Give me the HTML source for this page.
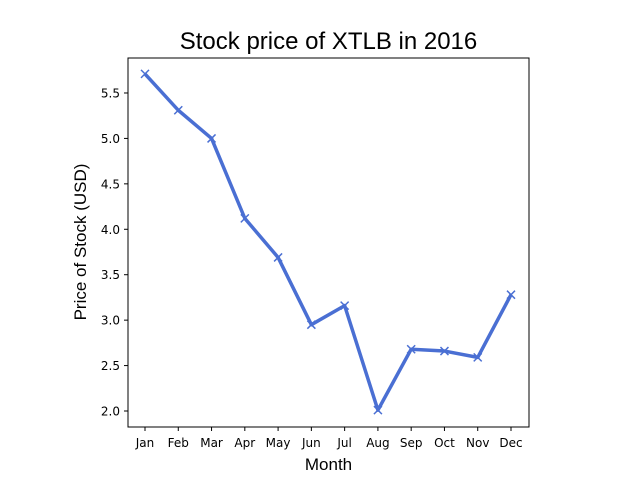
<!DOCTYPE html>
<html><head><meta charset="utf-8"><style>
body{margin:0;background:#fff;}
svg{display:block;font-family:"Liberation Sans","DejaVu Sans",sans-serif;}
.tk{font-family:"DejaVu Sans","Liberation Sans",sans-serif;font-size:12px;}
</style></head><body>
<svg id="chart" width="640" height="480" xmlns="http://www.w3.org/2000/svg">
<rect width="640" height="480" fill="#fff"/>
<text x="328.5" y="49" text-anchor="middle" font-size="24">Stock price of XTLB in 2016</text>
<text x="328.5" y="470" text-anchor="middle" font-size="17">Month</text>
<text transform="translate(86,242) rotate(-90)" text-anchor="middle" font-size="17">Price of Stock (USD)</text>
<g id="ticks"></g>
<g id="series"></g>
<rect x="128" y="58" width="401" height="369" fill="none" stroke="#000" stroke-width="1"/>
</svg>
<script>
const months = ["Jan","Feb","Mar","Apr","May","Jun","Jul","Aug","Sep","Oct","Nov","Dec"];
const prices = [5.71,5.31,5.00,4.12,3.69,2.95,3.16,2.01,2.68,2.66,2.59,3.28];
const yTicks = [2.0,2.5,3.0,3.5,4.0,4.5,5.0,5.5];
const NS="http://www.w3.org/2000/svg";
const L=128,R=529,T=58,B=427,yMin=1.824,yMax=5.885;
const x=i=>145+i*(511-145)/(months.length-1);
const y=v=>B-(v-yMin)/(yMax-yMin)*(B-T);
const tg=document.getElementById('ticks'), sg=document.getElementById('series');
function mk(t,a,p){const e=document.createElementNS(NS,t);for(const k in a)e.setAttribute(k,a[k]);p.appendChild(e);return e;}
months.forEach((m,i)=>{
  const l=mk('line',{x1:x(i),x2:x(i),y1:B,y2:B+4,stroke:'#000'},tg);
  
  
  const t=mk('text',{x:x(i),y:B+20,'text-anchor':'middle','class':'tk'},tg);t.textContent=m;
  
  
});
yTicks.forEach(v=>{
  const l=mk('line',{x1:L-4,x2:L,y1:y(v),y2:y(v),stroke:'#000'},tg);
  
  
  const t=mk('text',{x:L-8,y:y(v)+4.5,'text-anchor':'end','class':'tk'},tg);t.textContent=v.toFixed(1);
  
  
});
const pl=mk('polyline',{points:prices.map((v,i)=>x(i)+','+y(v)).join(' '),fill:'none',stroke:'#4a6fd3','stroke-width':'3.5','stroke-linejoin':'round'},sg);


prices.forEach((v,i)=>{
  const cx=x(i),cy=y(v);
  const p=mk('path',{d:`M${cx-4},${cy-4}L${cx+4},${cy+4}M${cx-4},${cy+4}L${cx+4},${cy-4}`,stroke:'#4a6fd3','stroke-width':'1.5'},sg);
  
  
});
</script>
</body></html>
